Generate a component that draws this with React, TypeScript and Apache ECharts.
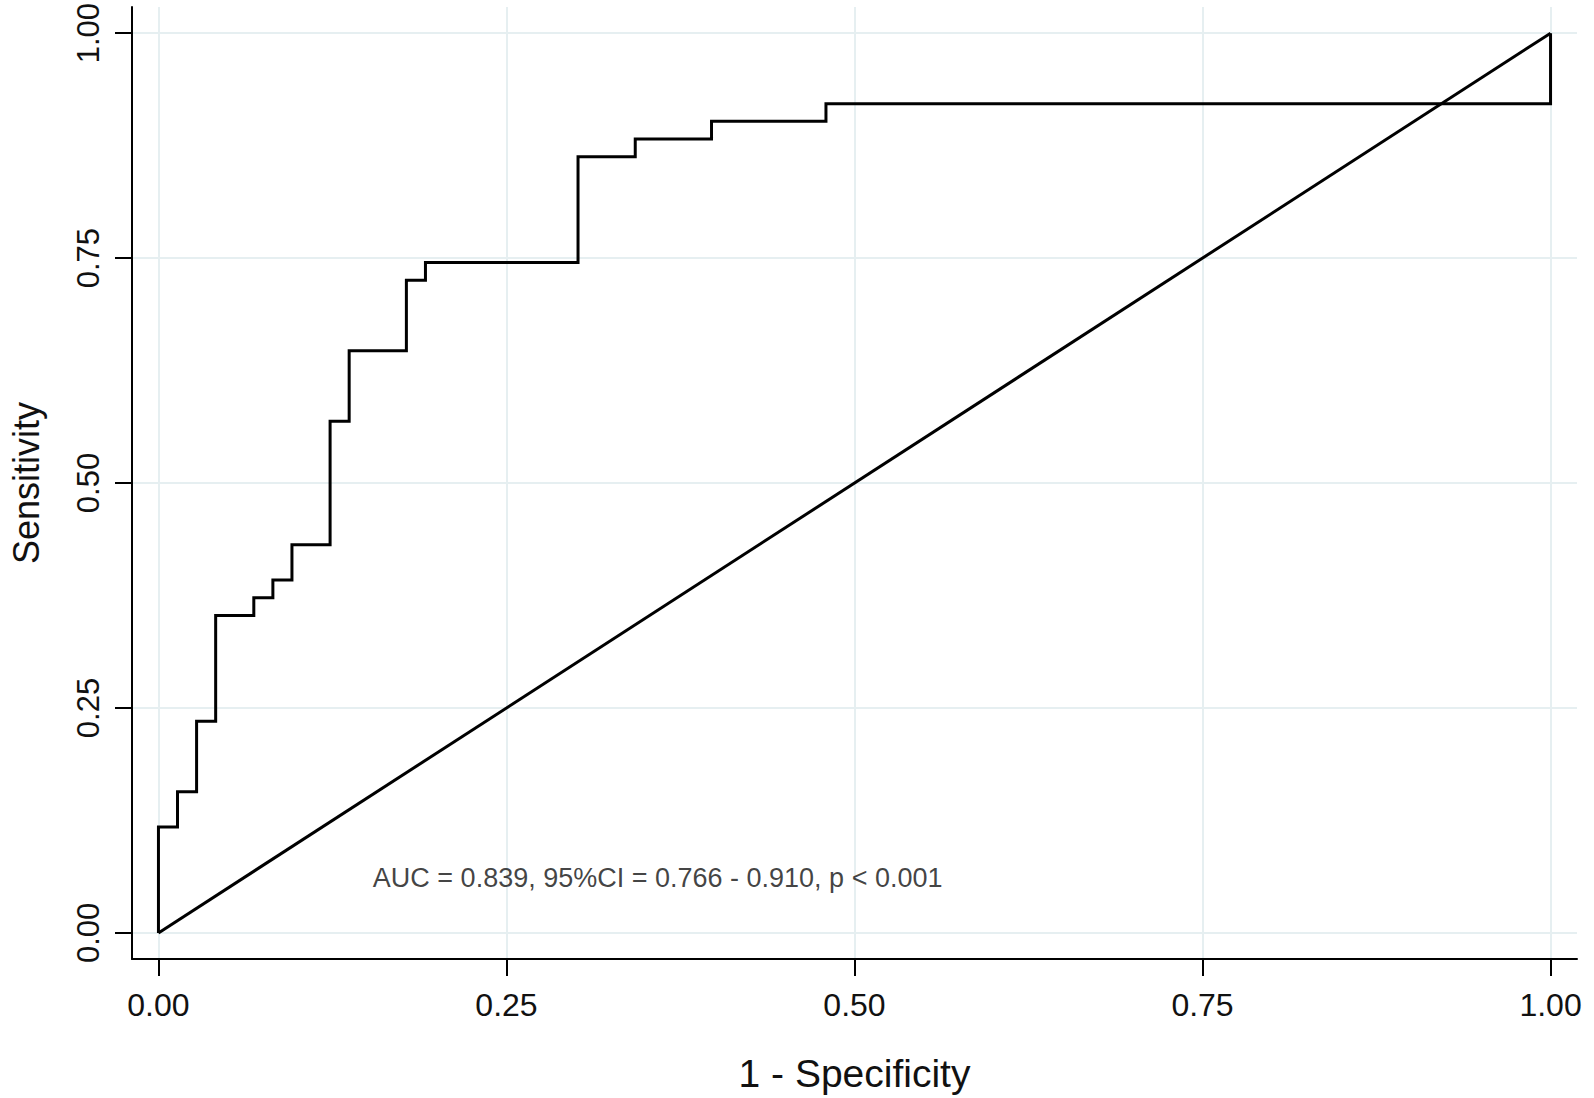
import React, { useEffect, useRef } from "react";
import * as echarts from "echarts";

// ROC curve vertices (1 - specificity, sensitivity)
const rocFpr = [
  0, 0, 0.0137, 0.0137, 0.0274, 0.0274, 0.0411, 0.0411, 0.0685, 0.0685, 0.0822, 0.0822,
  0.0959, 0.0959, 0.1233, 0.1233, 0.137, 0.137, 0.1781, 0.1781, 0.1918, 0.1918, 0.3014,
  0.3014, 0.3425, 0.3425, 0.3973, 0.3973, 0.4795, 0.4795, 1, 1,
];
const rocTpr = [
  0, 0.1176, 0.1176, 0.1569, 0.1569, 0.2353, 0.2353, 0.3529, 0.3529, 0.3725, 0.3725, 0.3922,
  0.3922, 0.4314, 0.4314, 0.5686, 0.5686, 0.6471, 0.6471, 0.7255, 0.7255, 0.7451, 0.7451,
  0.8627, 0.8627, 0.8824, 0.8824, 0.902, 0.902, 0.9216, 0.9216, 1,
];
// Reference diagonal
const refX = [0, 1];
const refY = [0, 1];

const tickValues = [0, 0.25, 0.5, 0.75, 1];
const annotationText = "AUC = 0.839, 95%CI = 0.766 - 0.910, p < 0.001";
const annotationPos = [0.154, 0.061];

const xTitle = "1 - Specificity";
const yTitle = "Sensitivity";

const FONT = "'Liberation Sans', Arial, sans-serif";

export default function App() {
  const ref = useRef<HTMLDivElement>(null);
  useEffect(() => {
    if (!ref.current) return;
    const chart = echarts.init(ref.current, null, { renderer: "svg" });
    const rocData = rocFpr.map((x, i) => [x, rocTpr[i]]);
    const refData = refX.map((x, i) => [x, refY[i]]);
    const gridData = [
      ...tickValues.map((v) => ({ xAxis: v })),
      ...tickValues.map((v) => ({ yAxis: v })),
    ];
    chart.setOption({
      animation: false,
      backgroundColor: "#ffffff",
      grid: { left: 130, top: 7, right: 17, bottom: 138.5, containLabel: false },
      xAxis: {
        type: "value",
        min: -0.019,
        max: 1.019,
        name: xTitle,
        nameLocation: "middle",
        nameGap: 95,
        nameTextStyle: { fontFamily: FONT, fontSize: 39, color: "#111" },
        axisLine: { show: true, onZero: false, lineStyle: { color: "#000", width: 2 } },
        axisTick: {
          show: true,
          length: 17,
          customValues: tickValues,
          lineStyle: { color: "#000", width: 2 },
        },
        axisLabel: {
          show: true,
          customValues: tickValues,
          margin: 30,
          fontFamily: FONT,
          fontSize: 32,
          color: "#111",
          formatter: (v: number) => v.toFixed(2),
        },
        splitLine: { show: false },
      },
      yAxis: {
        type: "value",
        min: -0.029,
        max: 1.029,
        name: yTitle,
        nameLocation: "middle",
        nameGap: 88,
        nameRotate: 90,
        nameTextStyle: { fontFamily: FONT, fontSize: 36, color: "#111" },
        axisLine: { show: true, onZero: false, lineStyle: { color: "#000", width: 2 } },
        axisTick: {
          show: true,
          length: 17,
          customValues: tickValues,
          lineStyle: { color: "#000", width: 2 },
        },
        axisLabel: {
          show: true,
          customValues: tickValues,
          rotate: 90,
          margin: 28,
          fontFamily: FONT,
          fontSize: 31,
          color: "#111",
          formatter: (v: number) => v.toFixed(2),
        },
        splitLine: { show: false },
      },
      series: [
        {
          type: "line",
          data: [],
          z: 0,
          silent: true,
          markLine: {
            z: 0,
            silent: true,
            symbol: "none",
            label: { show: false },
            emphasis: { disabled: true },
            lineStyle: { color: "#e6eff1", width: 2, type: "solid" },
            data: gridData,
          },
        },
        {
          type: "line",
          data: refData,
          z: 6,
          symbol: "none",
          lineStyle: { color: "#000", width: 3 },
        },
        {
          type: "line",
          data: rocData,
          z: 7,
          symbol: "none",
          lineStyle: { color: "#000", width: 3, join: "miter" },
        },
        {
          type: "scatter",
          data: [annotationPos],
          z: 8,
          symbolSize: 0,
          silent: true,
          label: {
            show: true,
            position: "right",
            distance: 0,
            formatter: annotationText,
            fontFamily: FONT,
            fontSize: 27,
            color: "#111",
          },
        },
      ],
    });
    return () => chart.dispose();
  }, []);
  return (
    <div
      ref={ref}
      style={{ position: "fixed", left: 0, top: 0, width: 1594, height: 1098 }}
    />
  );
}
